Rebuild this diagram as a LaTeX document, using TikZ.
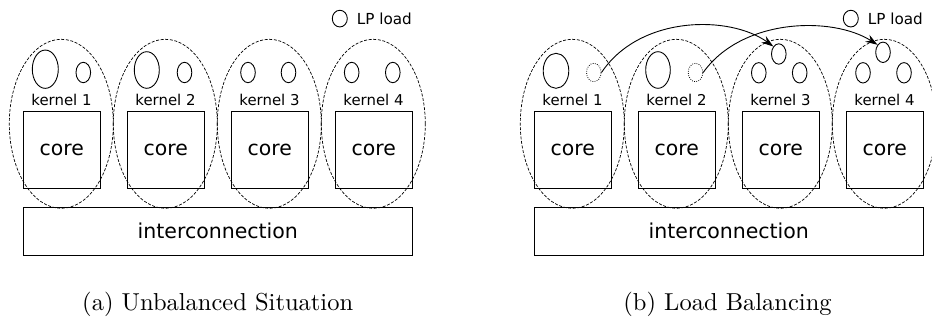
\documentclass[tikz,border=0pt]{standalone}
\usepackage{fontspec}
\usepackage{graphicx}
\usetikzlibrary{shapes.geometric,arrows.meta}
\newfontfamily\figfont{DejaVu Sans}

\tikzset{
  corebox/.style={draw, line width=0.9pt, minimum width=77pt, minimum height=76.6pt,
    inner sep=0pt, font=\figfont\fontsize{20.4}{24}\selectfont},
  busbox/.style={draw, line width=0.9pt, minimum width=389pt, minimum height=47.7pt,
    inner sep=0pt, font=\figfont\fontsize{20.5}{24}\selectfont},
  kernlabel/.style={inner sep=0pt, anchor=base, font=\figfont\fontsize{14.9}{17}\selectfont},
  kernelring/.style={draw, ellipse, dash pattern=on 3pt off 1.6pt, line width=0.7pt,
    minimum width=104pt, minimum height=169pt, inner sep=0pt},
  load/.style={draw, ellipse, line width=0.9pt, inner sep=0pt},
  small/.style={load, minimum width=14.6pt, minimum height=20.4pt},
  moved/.style={small, dash pattern=on 0.8pt off 1.4pt, line width=0.8pt,
    minimum height=18.4pt},
  legendtext/.style={inner sep=0pt, anchor=base west, font=\figfont\fontsize{15.2}{18}\selectfont},
  moveto/.style={-{Stealth[length=12pt,width=8pt]}, line width=0.9pt},
  captext/.style={inner sep=0pt, anchor=base}
}

\begin{document}
\begin{tikzpicture}[x=1pt,y=-1pt]
\useasboundingbox (0,0) rectangle (932,322);

% four kernels, each a core inside a dashed ring, for both panels
\foreach \p/\dx in {L/0,R/511}{
  \foreach \i in {1,...,4}{
    \pgfmathsetmacro\cx{61.8+104*(\i-1)+\dx}
    \node[kernelring] (\p ring\i) at (\cx-0.5,123.8) {};
    \node[corebox] (\p core\i) at (\cx,150) {core};
    \node[kernlabel] (\p klab\i) at (\cx-0.3,105.7) {kernel \i};
  }
  \node[busbox] (\p bus) at (217.8+\dx,231.2) {interconnection};
  % legend
  \node[load, minimum width=15pt, minimum height=16.7pt] (\p legcirc) at (339.8+\dx,18.6) {};
  \node[legendtext] (\p legtext) at (356.7+\dx,24) {LP load};
}

% (a) unbalanced: LP loads per kernel
\node[load, minimum width=26pt, minimum height=38.3pt] (L b1) at (45.3,69.2) {};
\node[small] (L s1) at (83.3,72.5) {};
\node[load, minimum width=25pt, minimum height=36.6pt] (L b2) at (146.8,70) {};
\node[small] (L s2) at (184.5,72.5) {};
\node[small] (L a3) at (248,72.5) {};
\node[small] (L c3) at (288.5,72.5) {};
\node[small] (L a4) at (351.7,72.5) {};
\node[small] (L c4) at (392.8,72.5) {};

% (b) load balancing: small loads moved to kernels 3 and 4
\node[load, minimum width=25.6pt, minimum height=35pt] (R b1) at (556,70.8) {};
\node[moved] (R d1) at (593.8,72.5) {};
\node[load, minimum width=24.6pt, minimum height=36.6pt] (R b2) at (658,70) {};
\node[moved] (R d2) at (695.5,72.5) {};
\node[small] (R t3) at (778.8,54) {};
\node[small] (R a3) at (758.8,72.8) {};
\node[small] (R c3) at (799.7,72.8) {};
\node[small] (R t4) at (883,52.3) {};
\node[small] (R a4) at (863,72.8) {};
\node[small] (R c4) at (904,72.8) {};

\draw[moveto] (R d1.east) .. controls (640,15) and (730,15) .. (R t3.north west);
\draw[moveto] (R d2.east) .. controls (742,18) and (832,16) .. (R t4.north west);

% captions
\node[captext] (capa) at (217.7,310) {\scalebox{2.45}{(a) Unbalanced Situation}};
\node[captext] (capb) at (727.5,310) {\scalebox{2.45}{(b) Load Balancing}};
\end{tikzpicture}
\end{document}
